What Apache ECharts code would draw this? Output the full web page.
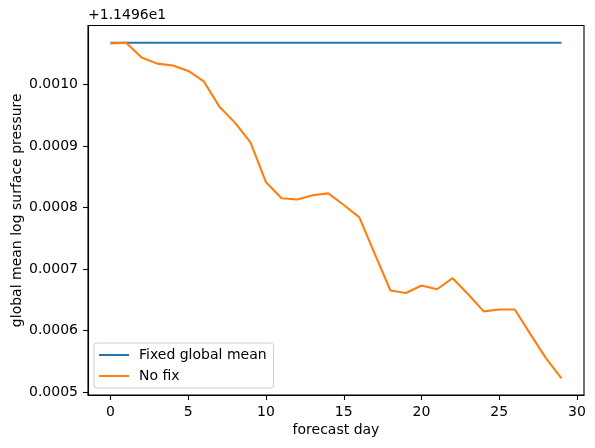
<!DOCTYPE html>
<html>
<head>
<meta charset="utf-8">
<script src="https://cdn.jsdelivr.net/npm/echarts@6/dist/echarts.min.js"></script>
<style>html,body{margin:0;padding:0;background:#fff}#c{width:595px;height:448px}</style>
</head>
<body>
<div id="c"></div>
<script>
// Values shown relative to the axis offset +1.1496e1
const yOffsetLabel = '+1.1496e1';
const days = [0,1,2,3,4,5,6,7,8,9,10,11,12,13,14,15,16,17,18,19,20,21,22,23,24,25,26,27,28,29];
const fixedMean = [0.001068,0.001068,0.001068,0.001068,0.001068,0.001068,0.001068,0.001068,0.001068,0.001068,
  0.001068,0.001068,0.001068,0.001068,0.001068,0.001068,0.001068,0.001068,0.001068,0.001068,
  0.001068,0.001068,0.001068,0.001068,0.001068,0.001068,0.001068,0.001068,0.001068,0.001068];
const noFix = [0.001067,0.001068,0.001044,0.001034,0.001031,0.001022,0.001005,0.000964,0.000938,0.000906,
  0.000841,0.000815,0.000813,0.000820,0.000823,0.000804,0.000784,0.000724,0.000665,0.000661,
  0.000673,0.000667,0.000685,0.000659,0.000631,0.000634,0.000634,0.000594,0.000555,0.000522];
const xTicks = [0,5,10,15,20,25,30];
const yTicks = [0.0005,0.0006,0.0007,0.0008,0.0009,0.0010];
const seriesNames = ['Fixed global mean','No fix'];

const font = 'DejaVu Sans';
const chart = echarts.init(document.getElementById('c'), null, {renderer:'canvas'});
const pair = arr => days.map((d,i)=>[d, arr[i]]);
chart.setOption({
  animation:false,
  grid:{left:88,top:25.5,right:11,bottom:53,show:true,borderColor:'#000',borderWidth:1.1,backgroundColor:'transparent',
    containLabel:false, outerBoundsMode:'none'},
  xAxis:{
    type:'value', min:-1.45, max:30.45,
    name:'forecast day', nameLocation:'middle', nameGap:28, nameMoveOverlap:false,
    nameTextStyle:{fontFamily:font,fontSize:14,color:'#000'},
    axisLine:{show:true,onZero:false,lineStyle:{color:'#000',width:1.1}},
    axisTick:{show:true,inside:false,length:5,lineStyle:{color:'#000',width:1.1},customValues:xTicks},
    axisLabel:{fontFamily:font,fontSize:14,color:'#000',margin:10,customValues:xTicks},
    splitLine:{show:false}
  },
  yAxis:{
    type:'value', min:0.000495, max:0.001096,
    name:'global mean log surface pressure', nameLocation:'middle', nameGap:64, nameMoveOverlap:false,
    nameTextStyle:{fontFamily:font,fontSize:14,color:'#000'},
    axisLine:{show:true,onZero:false,lineStyle:{color:'#000',width:1.1}},
    axisTick:{show:true,inside:false,length:5,lineStyle:{color:'#000',width:1.1},customValues:yTicks},
    axisLabel:{fontFamily:font,fontSize:14,color:'#000',margin:10,customValues:yTicks,
      formatter:v=>v.toFixed(4)},
    splitLine:{show:false}
  },
  legend:{
    orient:'vertical', left:94, top:343,
    padding:[5,7,5,5], itemGap:7, itemWidth:30, itemHeight:2,
    icon:'rect',
    backgroundColor:'rgba(255,255,255,0.8)', borderColor:'#cccccc', borderWidth:1, borderRadius:3,
    textStyle:{fontFamily:font,fontSize:14,color:'#000',padding:[0,0,0,5]},
    data:seriesNames
  },
  graphic:[{type:'text',left:88,top:8,style:{text:yOffsetLabel,font:'14px "DejaVu Sans"',fill:'#000'}}],
  series:[
    {name:seriesNames[0],type:'line',data:pair(fixedMean),showSymbol:false,lineStyle:{color:'#1f77b4',width:2.1},itemStyle:{color:'#1f77b4'}},
    {name:seriesNames[1],type:'line',data:pair(noFix),showSymbol:false,lineStyle:{color:'#ff7f0e',width:2.1},itemStyle:{color:'#ff7f0e'}}
  ]
});
</script>
</body>
</html>
